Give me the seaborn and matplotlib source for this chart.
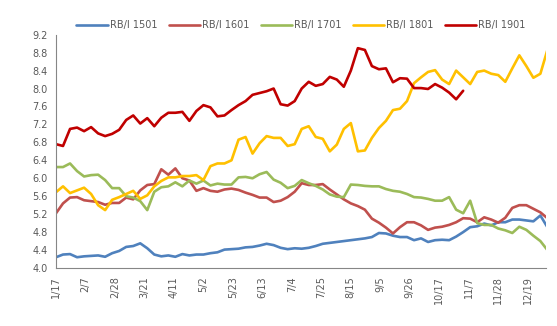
import numpy as np
import pandas as pd
import matplotlib
matplotlib.use("Agg")
import matplotlib.pyplot as plt
import matplotlib.dates as mdates
import seaborn as sns

# ---- data (5-day grid starting 1/17) ----
start_date = "2017-01-17"
n_points = 71
series_names = ["RB/I 1501", "RB/I 1601", "RB/I 1701", "RB/I 1801", "RB/I 1901"]

rb1501 = [4.24, 4.30, 4.31, 4.24, 4.26, 4.27, 4.28, 4.25, 4.33, 4.38,
          4.47, 4.49, 4.55, 4.44, 4.30, 4.26, 4.28, 4.25, 4.31, 4.28,
          4.30, 4.30, 4.33, 4.35, 4.41, 4.42, 4.43, 4.46, 4.47, 4.50,
          4.54, 4.51, 4.45, 4.42, 4.44, 4.43, 4.45, 4.49, 4.54, 4.56,
          4.58, 4.60, 4.62, 4.64, 4.66, 4.69, 4.78, 4.77, 4.72, 4.69,
          4.69, 4.62, 4.66, 4.58, 4.62, 4.63, 4.62, 4.70, 4.80, 4.91,
          4.93, 4.99, 4.95, 5.02, 5.02, 5.08, 5.08, 5.06, 5.04, 5.17,
          4.91]
rb1601 = [5.22, 5.44, 5.57, 5.58, 5.51, 5.49, 5.47, 5.41, 5.45, 5.45,
          5.57, 5.53, 5.73, 5.85, 5.87, 6.20, 6.08, 6.22, 6.00, 5.95,
          5.72, 5.78, 5.72, 5.70, 5.75, 5.77, 5.74, 5.68, 5.63, 5.57,
          5.57, 5.47, 5.50, 5.58, 5.70, 5.89, 5.85, 5.85, 5.87, 5.75,
          5.64, 5.53, 5.44, 5.38, 5.30, 5.10, 5.01, 4.90, 4.77, 4.91,
          5.02, 5.02, 4.95, 4.85, 4.90, 4.92, 4.96, 5.02, 5.11, 5.10,
          5.02, 5.13, 5.08, 5.01, 5.12, 5.34, 5.40, 5.40, 5.32, 5.24,
          5.11]
rb1701 = [6.25, 6.25, 6.33, 6.16, 6.04, 6.07, 6.08, 5.96, 5.78, 5.78,
          5.60, 5.57, 5.49, 5.29, 5.70, 5.80, 5.82, 5.91, 5.82, 5.95,
          5.88, 5.95, 5.84, 5.88, 5.86, 5.86, 6.02, 6.03, 6.00, 6.09,
          6.14, 5.97, 5.90, 5.78, 5.83, 5.96, 5.89, 5.83, 5.75, 5.64,
          5.59, 5.58, 5.86, 5.85, 5.83, 5.82, 5.82, 5.76, 5.72, 5.70,
          5.65, 5.58, 5.57, 5.54, 5.50, 5.50, 5.58, 5.30, 5.22, 5.50,
          5.00, 4.96, 4.96, 4.88, 4.84, 4.78, 4.92, 4.85, 4.72, 4.60,
          4.40]
rb1801 = [5.69, 5.82, 5.67, 5.73, 5.79, 5.65, 5.40, 5.29, 5.52, 5.58,
          5.65, 5.72, 5.54, 5.62, 5.82, 5.94, 6.02, 6.02, 6.05, 6.05,
          6.07, 5.96, 6.27, 6.33, 6.33, 6.40, 6.86, 6.92, 6.55, 6.78,
          6.94, 6.90, 6.90, 6.72, 6.76, 7.10, 7.16, 6.92, 6.88, 6.60,
          6.75, 7.10, 7.23, 6.60, 6.62, 6.90, 7.12, 7.28, 7.52, 7.55,
          7.72, 8.12, 8.25, 8.37, 8.41, 8.20, 8.10, 8.40, 8.25, 8.10,
          8.37, 8.40, 8.33, 8.30, 8.15, 8.45, 8.74, 8.50, 8.24, 8.33,
          8.86]
rb1901 = [6.76, 6.72, 7.10, 7.13, 7.05, 7.14, 7.00, 6.94, 6.99, 7.08,
          7.30, 7.40, 7.22, 7.34, 7.16, 7.35, 7.46, 7.46, 7.48, 7.28,
          7.50, 7.63, 7.58, 7.38, 7.40, 7.52, 7.63, 7.72, 7.86, 7.90,
          7.94, 8.00, 7.65, 7.62, 7.72, 8.00, 8.15, 8.06, 8.10, 8.26,
          8.20, 8.04, 8.40, 8.90, 8.86, 8.50, 8.43, 8.45, 8.14, 8.23,
          8.22, 8.01, 8.01, 7.99, 8.10, 8.02, 7.91, 7.76, 7.95]

colors = ["#4F81BD", "#C0504D", "#9BBB59", "#FFC000", "#C00000"]

y_ticks = [4.0, 4.4, 4.8, 5.2, 5.6, 6.0, 6.4, 6.8, 7.2, 7.6, 8.0, 8.4, 8.8, 9.2]

# ---- build long table ----
dates = pd.date_range(start_date, periods=n_points, freq="5D")
frames = []
for name, vals in zip(series_names, [rb1501, rb1601, rb1701, rb1801, rb1901]):
    v = list(vals) + [np.nan] * (n_points - len(vals))
    frames.append(pd.DataFrame({"date": dates, "value": v, "series": name}))
df = pd.concat(frames, ignore_index=True).dropna()

sns.set_theme(style="white")
plt.rcParams["font.family"] = ["DejaVu Sans"]
txt = "#595959"

fig = plt.figure(figsize=(5.57, 3.26), dpi=100)
ax = fig.add_axes([56 / 557, 58 / 326, (546 - 56) / 557, (291.3 - 58) / 326])

sns.lineplot(data=df, x="date", y="value", hue="series", hue_order=series_names,
             palette=dict(zip(series_names, colors)), linewidth=1.9, ax=ax,
             legend=False, sort=True)

ax.set_ylim(4.0, 9.2)
ax.set_yticks(y_ticks)
ax.set_yticklabels([f"{t:.1f}" for t in y_ticks])

x0 = pd.Timestamp(start_date)
ax.set_xlim(x0, x0 + pd.Timedelta(days=349))
xt = pd.date_range(start_date, "2017-12-25", freq="21D")
ax.set_xticks(xt)
ax.set_xticklabels([f"{d.month}/{d.day}" for d in xt], rotation=90)

ax.set_xlabel("")
ax.set_ylabel("")
for s in ["top", "right"]:
    ax.spines[s].set_visible(False)
for s in ["left", "bottom"]:
    ax.spines[s].set_color("#868686")
    ax.spines[s].set_linewidth(0.8)
ax.tick_params(axis="both", which="major", direction="out", length=4, width=0.8,
               color="#868686", labelsize=7, labelcolor=txt, pad=2)
ax.tick_params(axis="x", length=4)

from matplotlib.lines import Line2D
handles = [Line2D([0], [0], color=c, lw=1.9) for c in colors]
leg = ax.legend(handles, series_names, loc="center", bbox_to_anchor=(0.5, 1.04),
                ncol=5, frameon=False, fontsize=7, handlelength=3.2,
                handletextpad=0.2, columnspacing=1.2, borderaxespad=0)
for t in leg.get_texts():
    t.set_color(txt)

fig.savefig("out.png", dpi=100, facecolor="white")
